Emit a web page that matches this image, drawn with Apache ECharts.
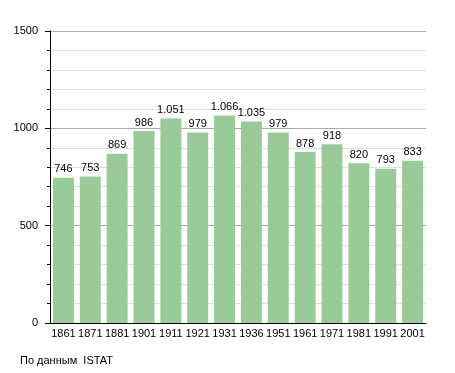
<!DOCTYPE html>
<html><head><meta charset="utf-8">
<script src="https://cdn.jsdelivr.net/npm/echarts@6/dist/echarts.min.js"></script>
<style>html,body{margin:0;padding:0;background:#fff}#c{width:455px;height:373px}</style>
</head><body><div id="c"></div>
<script>
var categories = ['1861','1871','1881','1901','1911','1921','1931','1936','1951','1961','1971','1981','1991','2001'];
var population = [746,753,869,986,1051,979,1066,1035,979,878,918,820,793,833];
var yTicks = [0,500,1000,1500];
var sourceText = 'По данным  ISTAT';

function fmt(v){ return String(v).replace(/\B(?=(\d{3})+(?!\d))/g,'.'); }
var font = 'Liberation Sans, Arial, sans-serif';
var chart = echarts.init(document.getElementById('c'), null, {renderer:'canvas'});
chart.setOption({
  animation:false,
  backgroundColor:'#fff',
  grid:{left:50,right:29,top:31,bottom:50,containLabel:false},
  graphic:[{type:'text',left:20,top:355,style:{text:sourceText,font:'11px '+font,fill:'#000'}}],
  xAxis:{type:'category',data:categories,
    axisLine:{lineStyle:{color:'#000',width:1}},
    axisTick:{show:false},
    axisLabel:{color:'#000',fontFamily:font,fontSize:11,margin:5,interval:0}},
  yAxis:{type:'value',min:yTicks[0],max:yTicks[yTicks.length-1],interval:500,
    axisLine:{show:true,lineStyle:{color:'#000',width:1}},
    axisTick:{show:true,length:5,lineStyle:{color:'#000'}},
    minorTick:{show:true,splitNumber:5,length:3,lineStyle:{color:'#000'}},
    splitLine:{show:true,lineStyle:{color:'#aaaaaa',width:1}},
    minorSplitLine:{show:true,lineStyle:{color:'#e0e0e0',width:1}},
    axisLabel:{color:'#000',fontFamily:font,fontSize:11,margin:12,formatter:function(v){return String(v);}}},
  series:[{type:'bar',data:population,barCategoryGap:'22%',
    itemStyle:{color:'#98cb98'},
    label:{show:true,position:'top',distance:3,color:'#000',fontFamily:font,fontSize:11,
      formatter:function(p){return fmt(p.value);}}}]
});
</script></body></html>
